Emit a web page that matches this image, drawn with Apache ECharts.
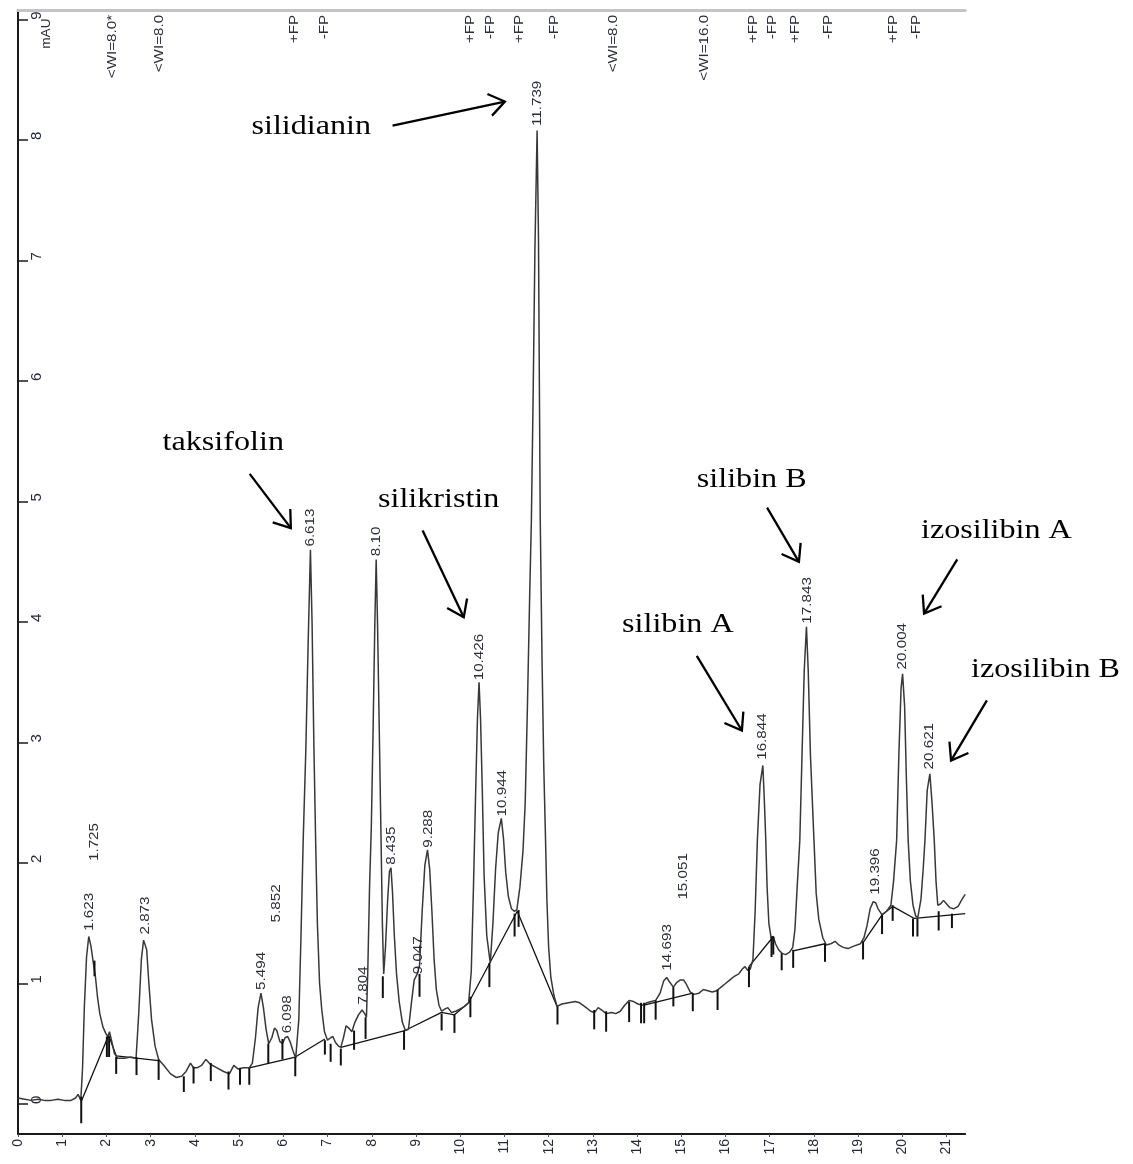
<!DOCTYPE html>
<html><head><meta charset="utf-8">
<script src="https://cdn.jsdelivr.net/npm/echarts@6/dist/echarts.min.js"></script>
<style>html,body{margin:0;padding:0;background:#fff}#c{width:1133px;height:1164px}</style>
</head><body><div id="c"></div>
<script>
// ---- axis ranges & ticks ----
const X_MIN = 0, X_MAX = 21.42;
const Y_MIN = -0.249, Y_MAX = 9.08;
const xTicks = [0,1,2,3,4,5,6,7,8,9,10,11,12,13,14,15,16,17,18,19,20,21];
const yTicks = [0,1,2,3,4,5,6,7,8,9];

// ---- detector signal (time, mAU) ----
const sigT = [0.00,0.15,0.30,0.45,0.60,0.75,0.90,1.05,1.20,1.30,1.36,1.42,1.46,1.50,1.55,1.60,1.65,1.70,1.75,1.80,1.85,1.92,1.98,2.03,2.07,2.12,2.18,2.25,2.40,2.55,2.67,2.73,2.79,2.84,2.873,2.91,2.96,3.02,3.10,3.18,3.30,3.45,3.58,3.70,3.80,3.90,3.97,4.05,4.15,4.25,4.35,4.50,4.65,4.78,4.88,4.98,5.10,5.23,5.30,5.37,5.43,5.494,5.55,5.61,5.67,5.74,5.80,5.852,5.92,5.98,6.04,6.098,6.15,6.22,6.28,6.35,6.40,6.45,6.51,6.56,6.613,6.65,6.69,6.73,6.77,6.82,6.87,6.93,7.00,7.07,7.12,7.18,7.25,7.30,7.36,7.42,7.48,7.55,7.62,7.70,7.78,7.804,7.84,7.88,7.91,7.95,7.99,8.03,8.07,8.10,8.13,8.17,8.21,8.24,8.27,8.31,8.36,8.40,8.435,8.47,8.51,8.56,8.62,8.69,8.76,8.83,8.90,8.96,9.03,9.08,9.14,9.20,9.26,9.31,9.36,9.41,9.46,9.52,9.58,9.66,9.72,9.80,9.90,10.00,10.10,10.19,10.25,10.30,10.35,10.39,10.426,10.46,10.50,10.54,10.60,10.68,10.74,10.80,10.86,10.93,10.98,11.03,11.09,11.16,11.22,11.28,11.35,11.42,11.47,11.52,11.57,11.61,11.65,11.69,11.739,11.77,11.79,11.81,11.85,11.89,11.93,11.96,12.00,12.05,12.12,12.19,12.30,12.45,12.60,12.70,12.85,12.95,13.04,13.12,13.20,13.30,13.42,13.52,13.62,13.72,13.82,13.92,14.02,14.12,14.22,14.32,14.42,14.52,14.60,14.67,14.74,14.82,14.90,14.98,15.051,15.12,15.20,15.28,15.40,15.50,15.60,15.70,15.80,15.90,16.00,16.10,16.20,16.30,16.38,16.44,16.50,16.56,16.62,16.67,16.72,16.78,16.844,16.88,16.91,16.94,16.98,17.03,17.08,17.13,17.20,17.28,17.36,17.45,17.52,17.57,17.62,17.68,17.73,17.78,17.83,17.87,17.92,18.00,18.05,18.11,18.20,18.28,18.38,18.48,18.56,18.66,18.77,18.90,19.05,19.13,19.20,19.27,19.34,19.396,19.45,19.54,19.64,19.74,19.80,19.87,19.92,19.97,20.004,20.05,20.09,20.13,20.18,20.24,20.30,20.35,20.42,20.47,20.51,20.56,20.621,20.67,20.72,20.76,20.80,20.86,20.93,21.00,21.07,21.16,21.26,21.35,21.42];
const sigV = [0.05,0.04,0.03,0.04,0.03,0.03,0.04,0.03,0.03,0.05,0.08,0.03,0.30,0.80,1.22,1.39,1.31,1.18,1.06,0.88,0.75,0.64,0.59,0.56,0.60,0.52,0.42,0.38,0.38,0.39,0.38,0.75,1.20,1.36,1.37,1.28,1.00,0.70,0.48,0.37,0.32,0.25,0.22,0.23,0.27,0.34,0.30,0.30,0.32,0.37,0.33,0.30,0.27,0.25,0.32,0.29,0.30,0.30,0.34,0.55,0.80,0.92,0.80,0.62,0.50,0.55,0.63,0.61,0.52,0.50,0.55,0.56,0.52,0.44,0.38,0.70,1.40,2.20,2.95,3.80,4.60,4.00,3.00,2.20,1.50,1.00,0.78,0.60,0.53,0.55,0.56,0.51,0.48,0.47,0.55,0.65,0.63,0.60,0.68,0.74,0.78,0.79,0.75,0.72,1.10,1.80,2.30,3.10,4.00,4.52,4.00,3.10,2.20,1.50,1.08,1.30,1.70,1.93,1.96,1.75,1.40,1.08,0.85,0.68,0.61,0.62,0.85,1.03,1.08,1.15,1.60,1.98,2.11,1.95,1.60,1.20,0.95,0.82,0.77,0.79,0.80,0.76,0.77,0.79,0.81,0.84,1.10,1.80,2.60,3.20,3.50,3.20,2.60,1.90,1.40,1.17,1.50,1.95,2.25,2.37,2.20,1.92,1.72,1.62,1.60,1.61,1.80,2.10,2.50,3.30,4.20,4.85,5.90,7.10,8.08,7.20,6.00,4.85,3.70,2.80,2.19,1.70,1.30,1.05,0.90,0.81,0.83,0.84,0.85,0.84,0.80,0.77,0.76,0.80,0.78,0.75,0.76,0.75,0.77,0.82,0.86,0.85,0.83,0.82,0.84,0.85,0.86,0.92,1.02,1.05,1.01,0.97,1.01,1.03,1.03,0.99,0.93,0.91,0.92,0.95,0.94,0.93,0.94,0.97,1.00,1.03,1.06,1.08,1.12,1.14,1.11,1.12,1.20,1.60,2.19,2.65,2.81,2.50,2.19,1.80,1.50,1.38,1.39,1.33,1.28,1.25,1.24,1.26,1.30,1.45,1.80,2.19,2.90,3.60,3.96,3.60,2.90,2.19,1.75,1.53,1.38,1.32,1.33,1.35,1.32,1.30,1.29,1.31,1.33,1.38,1.48,1.62,1.68,1.67,1.62,1.57,1.60,1.65,1.85,2.19,2.90,3.45,3.57,3.30,2.70,2.19,1.85,1.65,1.56,1.55,1.70,1.95,2.19,2.60,2.74,2.50,2.19,1.85,1.65,1.66,1.69,1.66,1.63,1.62,1.64,1.70,1.74];

// ---- integration baseline (null = break) ----
const baseT = [1.43,2.05,2.22,2.67,3.18,null,5.23,6.27,6.94,null,7.30,8.75,9.58,9.87,10.19,11.29,12.19,null,14.16,15.26,null,16.53,17.06,null,17.53,18.25,null,19.11,19.54,19.78,20.27,21.42];
const baseV = [0.02,0.57,0.40,0.38,0.36,null,0.30,0.39,0.54,null,0.47,0.61,0.76,0.74,0.84,1.60,0.81,null,0.82,0.92,null,1.14,1.38,null,1.27,1.33,null,1.34,1.57,1.64,1.54,1.58];

// ---- peak start/end ticks ----
const tickT   = [1.43,1.73,2.01,2.06,2.22,2.68,3.18,3.75,3.97,4.36,4.76,5.02,5.23,5.66,5.98,6.27,6.94,7.07,7.30,7.60,7.86,8.25,8.73,9.08,9.58,9.87,10.23,10.66,11.23,11.32,12.20,13.03,13.30,13.82,14.09,14.16,14.42,14.82,15.26,15.82,16.53,17.04,17.08,17.27,17.53,18.25,19.11,19.54,19.78,20.24,20.34,20.82,21.12];
const tickTop = [0.06,1.19,0.56,0.56,0.39,0.39,0.37,0.23,0.31,0.34,0.27,0.30,0.30,0.50,0.54,0.39,0.53,0.50,0.46,0.61,0.72,1.06,0.61,1.08,0.75,0.74,0.89,1.17,1.58,1.61,0.81,0.78,0.77,0.85,0.84,0.84,0.86,0.97,0.92,0.95,1.14,1.39,1.39,1.25,1.28,1.33,1.35,1.57,1.65,1.54,1.54,1.60,1.58];
const tickBot = [-0.16,1.06,0.39,0.39,0.25,0.24,0.20,0.10,0.17,0.19,0.12,0.16,0.16,0.34,0.37,0.23,0.41,0.35,0.32,0.45,0.54,0.88,0.45,0.89,0.61,0.59,0.72,0.97,1.39,1.47,0.66,0.62,0.60,0.68,0.67,0.67,0.70,0.81,0.77,0.78,0.97,1.22,1.24,1.11,1.13,1.18,1.20,1.41,1.52,1.39,1.39,1.44,1.46];

// ---- retention-time labels ----
const peakText = ['1.623','1.725','2.873','5.494','5.852','6.098','6.613','7.804','8.10','8.435','9.047','9.288','10.426','10.944','11.739','14.693','15.051','16.844','17.843','19.396','20.004','20.621'];
const peakT = [1.623,1.725,2.873,5.494,5.852,6.098,6.613,7.804,8.10,8.435,9.047,9.288,10.426,10.944,11.739,14.693,15.051,16.844,17.843,19.396,20.004,20.621];
const peakLabelV = [1.42,2.00,1.39,0.93,1.49,0.57,4.61,0.81,4.53,1.97,1.06,2.11,3.50,2.37,8.10,1.09,1.68,2.84,3.97,1.72,3.59,2.76];

// ---- timetable events along the top ----
const eventText = ['<WI=8.0*','<WI=8.0','+FP','-FP','+FP','-FP','+FP','-FP','<WI=8.0','<WI=16.0','+FP','-FP','+FP','-FP','+FP','-FP'];
const eventT = [2.14,3.20,6.26,6.94,10.24,10.69,11.35,12.14,13.47,15.53,16.62,17.05,17.57,18.32,19.79,20.31];
const eventTopV = 9.04;
const unitText = ['mAU'], unitT = [0.65], unitV = [9.01];

// ---- compound annotations ----
const annText = ['silidianin','taksifolin','silikristin','silibin B','izosilibin A','silibin A','izosilibin B'];
const annT = [5.28,3.27,8.14,15.35,20.42,13.66,21.55];
const annV = [8.11,5.49,5.01,5.18,4.76,3.98,3.60];
const arrowFromT = [8.47,5.24,9.15,16.94,21.24,15.35,21.91];
const arrowFromV = [8.12,5.23,4.76,4.95,4.52,3.72,3.35];
const arrowToT = [11.01,6.17,10.08,17.66,20.49,16.37,21.10];
const arrowToV = [8.32,4.78,4.04,4.50,4.07,3.10,2.85];

// ---------------------------------------------------------------
const SANS = '"Liberation Sans", Arial, sans-serif';
const SERIF = '"Liberation Serif", "Times New Roman", serif';
const sigData = sigT.map((t, i) => [t, sigV[i]]);

const baseSeries = [];
let seg = [];
baseT.forEach((t, i) => {
  if (t === null) { if (seg.length) baseSeries.push(seg); seg = []; }
  else seg.push([t, baseV[i]]);
});
if (seg.length) baseSeries.push(seg);

function textItem(x, y, text, opts) {
  return Object.assign({
    type: 'text', x: x, y: y,
    style: Object.assign({ text: text, fill: '#2a2e3a', font: '13px ' + SANS }, opts.style || {})
  }, opts.el || {});
}

const series = [];
baseSeries.forEach(s => series.push({
  type: 'line', data: s, symbol: 'none', silent: true, z: 2,
  lineStyle: { color: '#111', width: 1.3 }
}));
series.push({
  type: 'line', name: 'signal', data: sigData, symbol: 'none', silent: true, z: 3, clip: false,
  lineStyle: { color: '#383838', width: 1.5 }
});
series.push({
  type: 'custom', name: 'ticks', z: 4, silent: true,
  data: tickT.map((t, i) => [t, tickTop[i], tickBot[i]]),
  encode: { x: 0, y: [1, 2] },
  renderItem: (p, api) => {
    const a = api.coord([api.value(0), api.value(1)]);
    const b = api.coord([api.value(0), api.value(2)]);
    return { type: 'line', shape: { x1: a[0], y1: a[1], x2: b[0], y2: b[1] }, style: { stroke: '#111', lineWidth: 2 } };
  }
});
series.push({
  type: 'custom', name: 'peakLabels', z: 5, silent: true,
  data: peakT.map((t, i) => [t, peakLabelV[i]]),
  encode: { x: 0, y: 1 },
  renderItem: (p, api) => {
    const c = api.coord([api.value(0), api.value(1)]);
    return textItem(c[0], c[1] - 2, peakText[p.dataIndex], {
      style: { align: 'left', verticalAlign: 'middle' },
      el: { rotation: Math.PI / 2, scaleX: 1.17 }
    });
  }
});
series.push({
  type: 'custom', name: 'events', z: 5, silent: true,
  data: eventT.map(t => [t, eventTopV]),
  encode: { x: 0, y: 1 },
  renderItem: (p, api) => {
    const c = api.coord([api.value(0), api.value(1)]);
    return textItem(c[0], c[1], eventText[p.dataIndex], {
      style: { align: 'right', verticalAlign: 'middle' },
      el: { rotation: Math.PI / 2, scaleX: 1.17 }
    });
  }
});
series.push({
  type: 'custom', name: 'unit', z: 5, silent: true,
  data: unitT.map((t, i) => [t, unitV[i]]),
  encode: { x: 0, y: 1 },
  renderItem: (p, api) => {
    const c = api.coord([api.value(0), api.value(1)]);
    return textItem(c[0], c[1], unitText[p.dataIndex], {
      style: { align: 'right', verticalAlign: 'middle' },
      el: { rotation: Math.PI / 2, scaleX: 1.05 }
    });
  }
});
series.push({
  type: 'custom', name: 'annotations', z: 6, silent: true,
  data: annT.map((t, i) => [t, annV[i]]),
  encode: { x: 0, y: 1 },
  renderItem: (p, api) => {
    const c = api.coord([api.value(0), api.value(1)]);
    return textItem(c[0], c[1], annText[p.dataIndex], {
      style: { align: 'left', verticalAlign: 'middle', fill: '#000', font: '27px ' + SERIF },
      el: { scaleX: 1.19 }
    });
  }
});
series.push({
  type: 'custom', name: 'arrows', z: 6, silent: true,
  data: arrowFromT.map((t, i) => [t, arrowFromV[i], arrowToT[i], arrowToV[i]]),
  encode: { x: [0, 2], y: [1, 3] },
  renderItem: (p, api) => {
    const a = api.coord([api.value(0), api.value(1)]);
    const b = api.coord([api.value(2), api.value(3)]);
    const ang = Math.atan2(b[1] - a[1], b[0] - a[0]);
    const L = 19, spread = 0.62;
    const h1 = [b[0] - L * Math.cos(ang - spread), b[1] - L * Math.sin(ang - spread)];
    const h2 = [b[0] - L * Math.cos(ang + spread), b[1] - L * Math.sin(ang + spread)];
    return {
      type: 'group', children: [
        { type: 'line', shape: { x1: a[0], y1: a[1], x2: b[0], y2: b[1] }, style: { stroke: '#000', lineWidth: 2.3 } },
        { type: 'polyline', shape: { points: [h1, b, h2] }, style: { stroke: '#000', lineWidth: 2.3, fill: null, lineJoin: 'miter' } }
      ]
    };
  }
});

const option = {
  animation: false,
  backgroundColor: '#fff',
  grid: { left: 18, right: 167.8, top: 10, bottom: 30, containLabel: false },
  xAxis: [{
    type: 'value', min: X_MIN, max: X_MAX, position: 'bottom',
    axisLine: { show: true, onZero: false, lineStyle: { color: '#1a1a1a', width: 2 } },
    axisTick: { show: true, length: 3, customValues: xTicks, lineStyle: { color: '#3a4a7a', width: 1 } },
    axisLabel: { show: true, rotate: 90, margin: 5, customValues: xTicks, fontSize: 14, fontFamily: SANS, color: '#252a38' },
    splitLine: { show: false }
  }, {
    type: 'value', min: X_MIN, max: X_MAX, position: 'top',
    axisLine: { show: true, onZero: false, lineStyle: { color: '#c4c4c4', width: 3 } },
    axisTick: { show: false }, axisLabel: { show: false }, splitLine: { show: false }
  }],
  yAxis: {
    type: 'value', min: Y_MIN, max: Y_MAX,
    axisLine: { show: true, onZero: false, lineStyle: { color: '#1a1a1a', width: 2 } },
    axisTick: { show: true, inside: true, length: 10, customValues: yTicks, lineStyle: { color: '#1a1a1a', width: 1.5 } },
    axisLabel: { show: true, inside: true, rotate: 90, margin: 11, customValues: yTicks, align: 'left', verticalAlign: 'top', fontSize: 15, fontFamily: SANS, color: '#252a38' },
    splitLine: { show: false }
  },
  series: series
};

const chart = echarts.init(document.getElementById('c'));
chart.setOption(option);
</script>
</body></html>
